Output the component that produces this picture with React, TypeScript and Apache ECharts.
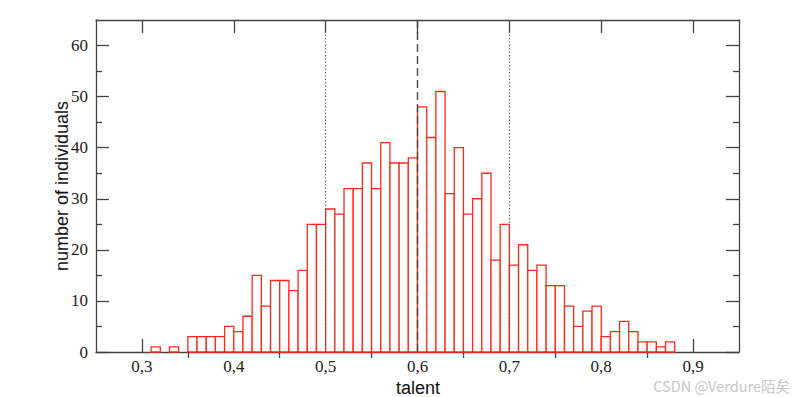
import React, { useEffect, useRef } from "react";
import * as echarts from "echarts";

// histogram: bins of width 0.01 starting at 0.31
const binStart = 0.31;
const binWidth = 0.01;
const counts = [
  1, 0, 1, 0, 3, 3, 3, 3, 5, 4, 7, 15, 9, 14, 14, 12, 16, 25, 25, 28, 27, 32, 32, 37, 32, 41, 37, 37, 38,
  48, 42, 51, 31, 40, 27, 30, 35, 18, 25, 17, 21, 16, 17, 13, 13, 9, 5, 8, 9, 3, 4, 6, 4, 2, 2, 1, 2,
];
const xMajorTicks = [0.3, 0.4, 0.5, 0.6, 0.7, 0.8, 0.9];
const xMinorTicks = [0.35, 0.45, 0.55, 0.65, 0.75, 0.85];
const yMajorTicks = [0, 10, 20, 30, 40, 50, 60];
const yMinorTicks = [5, 15, 25, 35, 45, 55];
const dottedLines = [0.5, 0.7];
const dashedLines = [0.6];
const xTitle = "talent";
const yTitle = "number of individuals";

const AXIS_COLOR = "#444";
const BAR_COLOR = "#ff2a1a";

export default function App() {
  const ref = useRef<HTMLDivElement>(null);
  useEffect(() => {
    if (!ref.current) return;
    const chart = echarts.init(ref.current, null, { renderer: "svg" });
    const data = counts.map((c, i) => [
      +(binStart + i * binWidth).toFixed(2),
      +(binStart + (i + 1) * binWidth).toFixed(2),
      c,
    ]);
    const baseX = { type: "value", min: 0.25, max: 0.95, gridIndex: 0, splitLine: { show: false } };
    const baseY = { type: "value", min: 0, max: 65, gridIndex: 0, splitLine: { show: false } };
    const line = { show: true, onZero: false, lineStyle: { color: AXIS_COLOR, width: 1.3 } };
    const noLine = { show: false };
    const tick = (vals: number[], len: number) => ({
      show: true,
      inside: true,
      length: len,
      customValues: vals,
      lineStyle: { color: AXIS_COLOR, width: 1.3 },
    });
    const noLabel = { show: false };
    const option: any = {
      animation: false,
      backgroundColor: "#fff",
      grid: { left: 96, right: 61, top: 20, bottom: 45, containLabel: false, outerBoundsMode: "none" },
      xAxis: [
        {
          ...baseX,
          position: "bottom",
          axisLine: line,
          axisTick: tick(xMajorTicks, 13),
          axisLabel: {
            show: true,
            customValues: xMajorTicks,
            margin: 6,
            fontFamily: "Liberation Serif",
            fontSize: 17,
            color: "#222",
            formatter: (v: number) => v.toFixed(1).replace(".", ","),
          },
        },
        { ...baseX, position: "bottom", axisLine: noLine, axisTick: tick(xMinorTicks, 6), axisLabel: noLabel },
        { ...baseX, position: "top", axisLine: line, axisTick: tick(xMajorTicks, 13), axisLabel: noLabel },
        { ...baseX, position: "top", axisLine: noLine, axisTick: tick(xMinorTicks, 6), axisLabel: noLabel },
      ],
      yAxis: [
        {
          ...baseY,
          position: "left",
          axisLine: line,
          axisTick: tick(yMajorTicks, 13),
          axisLabel: {
            show: true,
            customValues: yMajorTicks,
            margin: 8,
            fontFamily: "Liberation Serif",
            fontSize: 17,
            color: "#222",
          },
        },
        { ...baseY, position: "left", axisLine: noLine, axisTick: tick(yMinorTicks, 6), axisLabel: noLabel },
        { ...baseY, position: "right", axisLine: line, axisTick: tick(yMajorTicks, 13), axisLabel: noLabel },
        { ...baseY, position: "right", axisLine: noLine, axisTick: tick(yMinorTicks, 6), axisLabel: noLabel },
      ],
      series: [
        {
          type: "custom",
          xAxisIndex: 0,
          yAxisIndex: 0,
          data,
          renderItem: (params: any, api: any) => {
            const x0 = api.value(0);
            const x1 = api.value(1);
            const v = api.value(2);
            if (!v) return null;
            const p0 = api.coord([x0, v]);
            const p1 = api.coord([x1, 0]);
            return {
              type: "rect",
              shape: { x: p0[0], y: p0[1], width: p1[0] - p0[0], height: p1[1] - p0[1] },
              style: { fill: "#fff", stroke: BAR_COLOR, lineWidth: 1.3 },
            };
          },
          z: 2,
        },
        {
          type: "line",
          xAxisIndex: 0,
          yAxisIndex: 0,
          data: [],
          z: 5,
          markLine: {
            silent: true,
            symbol: "none",
            label: { show: false },
            animation: false,
            data: [
              ...dottedLines.map((x) => ({
                xAxis: x,
                lineStyle: { type: [1.2, 2.2], color: "#555", width: 1.2 },
              })),
              ...dashedLines.map((x) => ({
                xAxis: x,
                lineStyle: { type: [8, 4], color: "#444", width: 1.4 },
              })),
            ],
          },
        },
      ],
      graphic: [
        {
          type: "text",
          x: 418,
          y: 388,
          style: {
            text: xTitle,
            fontFamily: "Liberation Sans",
            fontSize: 18,
            fill: "#111",
            align: "center",
            verticalAlign: "middle",
          },
        },
        {
          type: "text",
          x: 62,
          y: 186,
          rotation: Math.PI / 2,
          style: {
            text: yTitle,
            fontFamily: "Liberation Sans",
            fontSize: 18,
            fill: "#111",
            align: "center",
            verticalAlign: "middle",
          },
        },
        {
          type: "text",
          right: 10,
          top: 378,
          style: {
            text: "CSDN @Verdure陌矣",
            fontFamily: "Noto Sans CJK SC",
            fontSize: 14.5,
            fill: "#c8c8c8",
          },
        },
      ],
    };
    chart.setOption(option);
    return () => chart.dispose();
  }, []);
  return <div ref={ref} style={{ width: 800, height: 397, position: "fixed", left: 0, top: 0 }} />;
}
